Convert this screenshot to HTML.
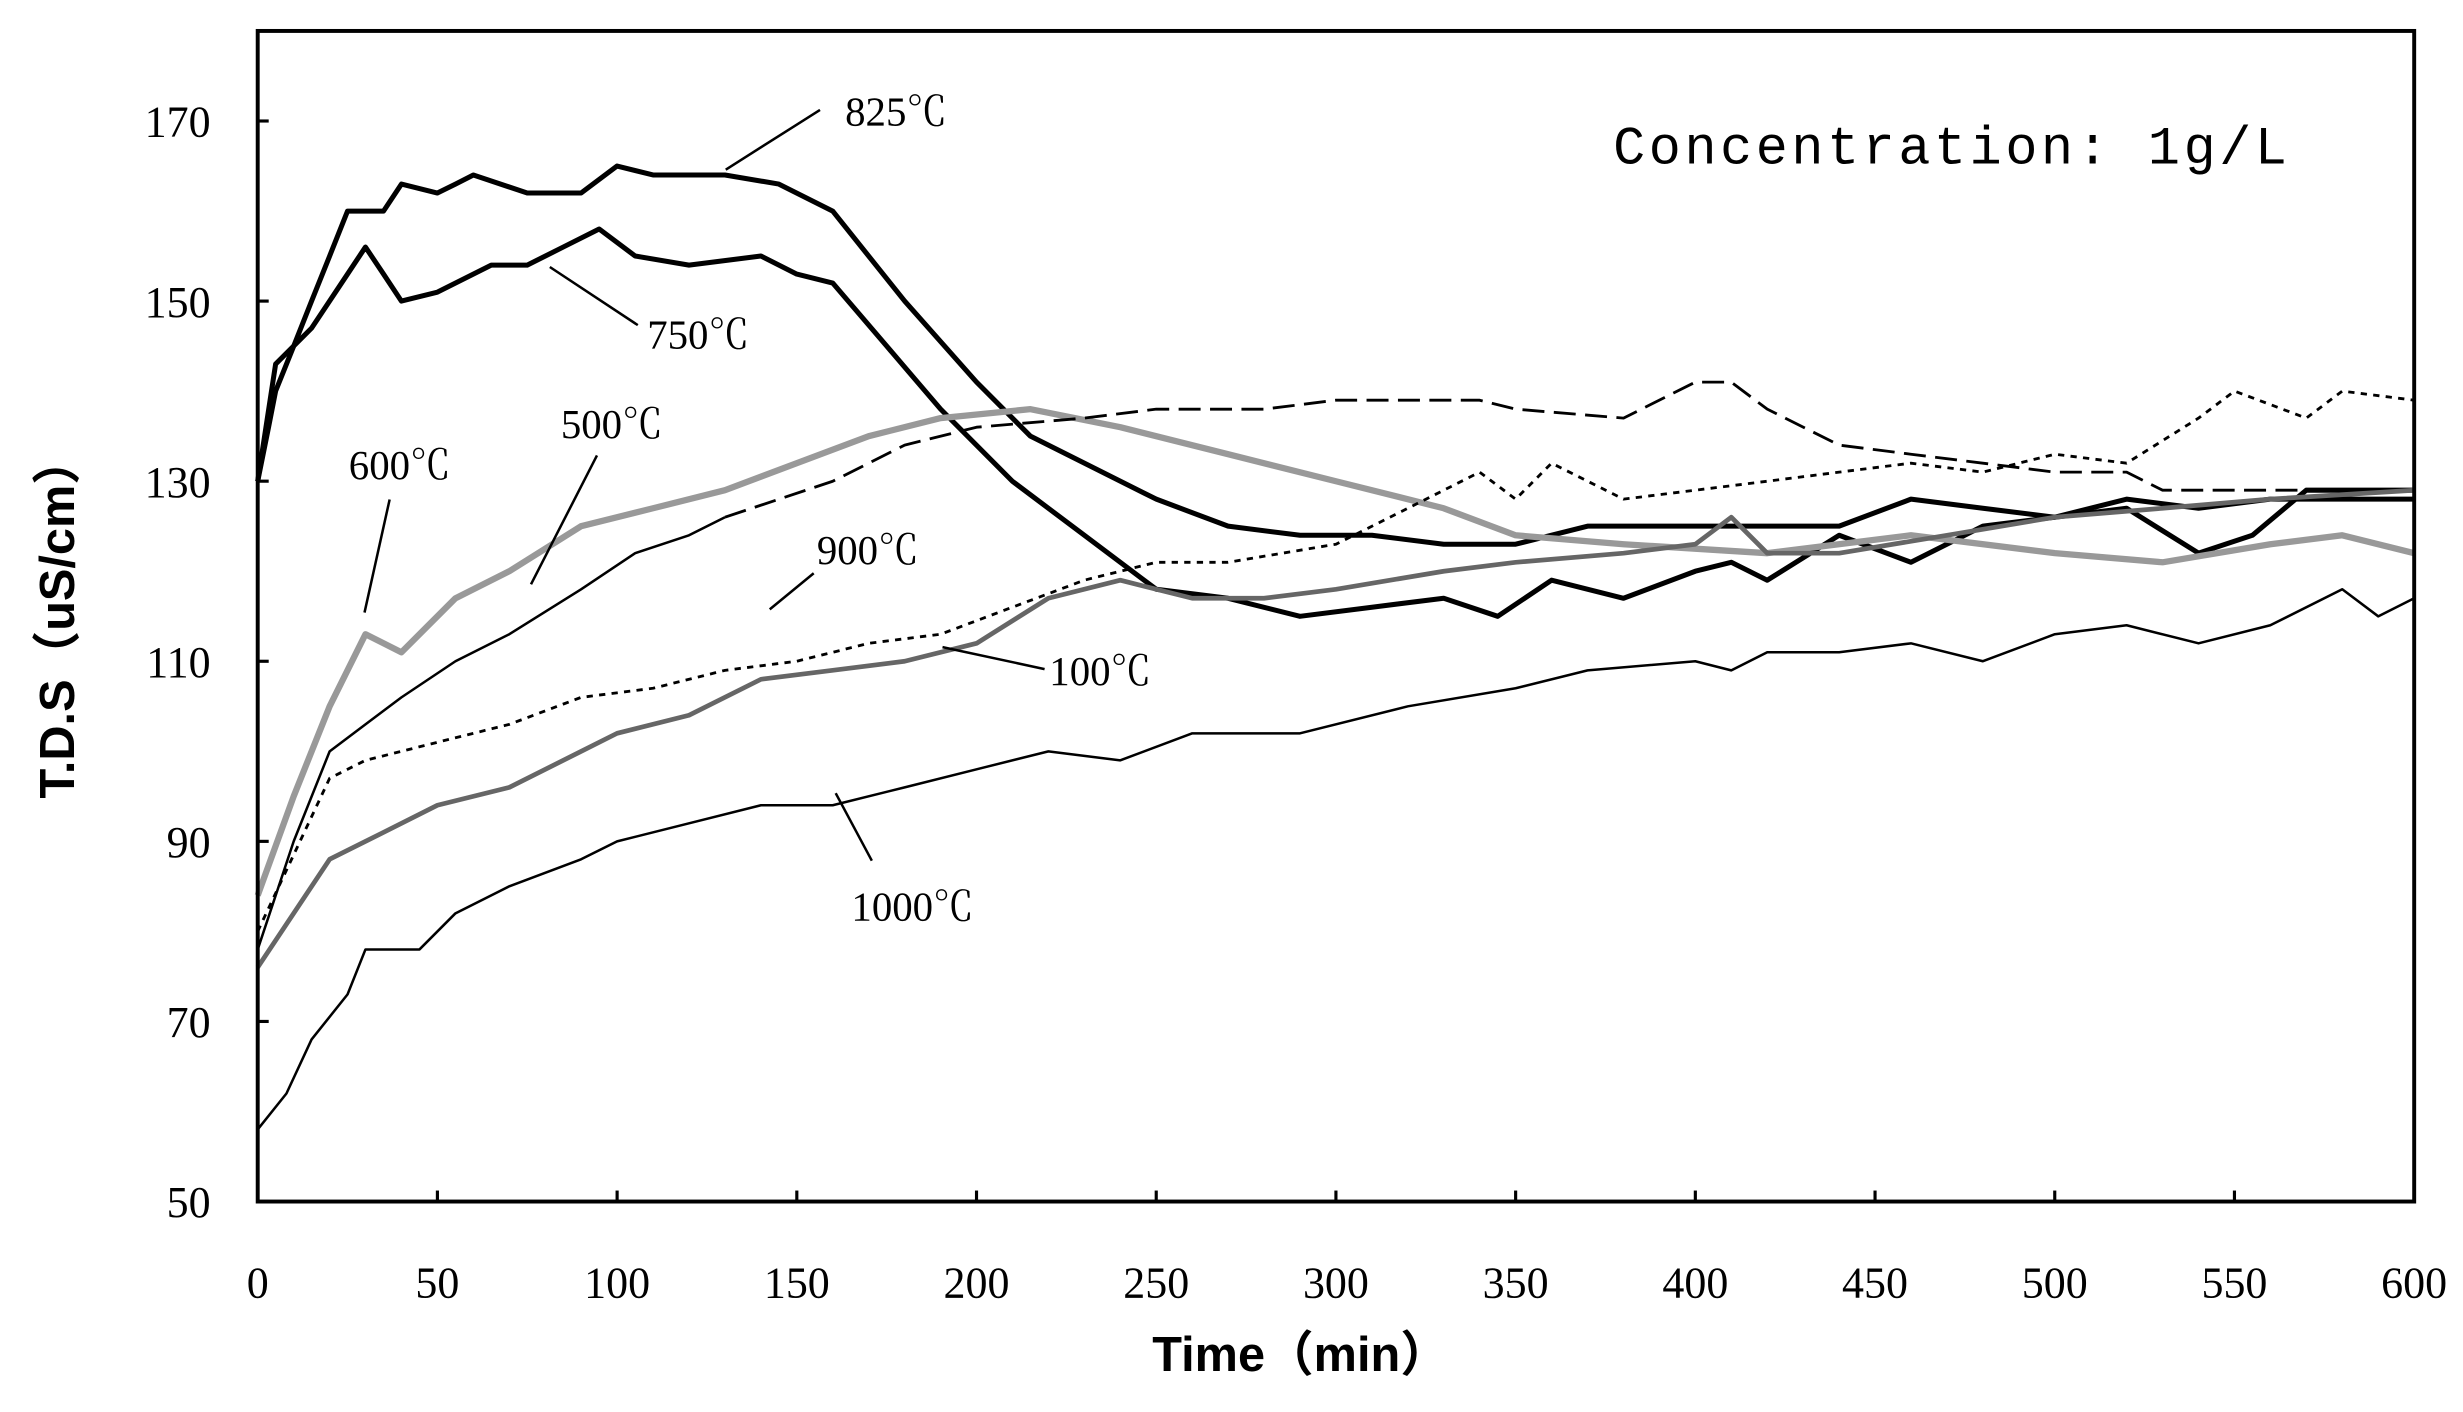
<!DOCTYPE html>
<html><head><meta charset="utf-8"><style>
html,body{margin:0;padding:0;background:#fff;}
svg{display:block;}
</style></head><body>
<svg width="2463" height="1412" viewBox="0 0 1568 899" xmlns="http://www.w3.org/2000/svg">
<rect width="1568" height="899" fill="#fff"/>
<g id="plot" fill="none" stroke-linejoin="round"></g>
<rect x="164" y="19.7" width="1373" height="745.3" fill="none" stroke="#000" stroke-width="2.5"/>
<g stroke="#000" stroke-width="2" id="ticks"></g>
<g font-family="'Liberation Serif','Noto Serif CJK SC',serif" font-size="28" fill="#000" id="lbl"></g>
<g font-family="'Liberation Serif','Noto Serif CJK SC',serif" font-size="26" fill="#000">
<text x="538" y="80">825℃</text>
<text x="412" y="222">750℃</text>
<text x="222" y="305">600℃</text>
<text x="357" y="279">500℃</text>
<text x="520" y="359">900℃</text>
<text x="668" y="436">100℃</text>
<text x="542" y="586">1000℃</text>
<text x="1027" y="104" font-size="34" font-family="'Liberation Mono',monospace" letter-spacing="2.3">Concentration: 1g/L</text>
</g>
<g stroke="#000" stroke-width="1.6">
<line x1="462" y1="108" x2="522" y2="70"/>
<line x1="350" y1="170" x2="406" y2="207"/>
<line x1="232" y1="390" x2="248" y2="318"/>
<line x1="338" y1="372" x2="380" y2="290"/>
<line x1="490" y1="388" x2="518" y2="365"/>
<line x1="600" y1="412" x2="665" y2="426"/>
<line x1="532" y1="505" x2="555" y2="548"/>
</g>
<g font-family="'Liberation Sans','Noto Sans CJK SC',sans-serif" font-weight="bold" font-size="31" fill="#000">
<text x="828" y="873" text-anchor="middle">Time（min）</text>
<text transform="translate(47,393) rotate(-90)" text-anchor="middle">T.D.S（uS/cm）</text>
</g>
</svg>
<script>
var NS='http://www.w3.org/2000/svg';
function el(parent,tag,attrs,txt){var e=document.createElementNS(NS,tag);for(var k in attrs)e.setAttribute(k,attrs[k]);if(txt!==undefined)e.textContent=txt;parent.appendChild(e);return e;}
var X=function(t){return 164+t*2.2883;}, Y=function(v){return 765-(v-50)*5.733;};
function P(a){var s='';for(var i=0;i<a.length;i+=2)s+=(i?'L':'M')+X(a[i]).toFixed(1)+','+Y(a[i+1]).toFixed(1);return s;}
var S={
s825:[0,130,3,136,5,140,10,145,15,150,20,155,25,160,35,160,40,163,50,162,55,163,60,164,75,162,90,162,100,165,110,164,130,164,145,163,160,160,180,150,200,141,215,135,230,132,250,128,270,125,290,124,310,124,330,123,350,123,370,125,440,125,460,128,480,127,500,126,520,128,540,127,560,128,600,128],
s750:[0,130,5,143,15,147,25,153,30,156,35,153,40,150,50,151,65,154,75,154,85,156,95,158,105,155,120,154,140,155,150,153,160,152,175,145,190,138,210,130,230,124,250,118,270,117,290,115,310,116,330,117,345,115,360,119,380,117,400,120,410,121,420,119,440,124,460,121,480,125,500,126,520,127,540,122,555,124,570,129,600,129],
s600:[0,84,10,95,20,105,30,113,40,111,55,117,70,120,90,125,110,127,130,129,150,132,170,135,190,137,215,138,240,136,270,133,300,130,330,127,350,124,380,123,420,122,460,124,500,122,530,121,560,123,580,124,600,122],
s500:[0,78,10,90,20,100,30,103,40,106,55,110,70,113,90,118,105,122,120,124,130,126],
sdash:[130,126,160,130,180,134,200,136,230,137,250,138,280,138,300,139,340,139,350,138,380,137,400,141,410,141,420,138,440,134,460,133,480,132,500,131,520,131,530,129,560,129,600,129],
s900:[0,80,20,97,30,99,50,101,70,103,90,106,110,107,130,109,150,110,170,112,190,113,210,116,230,119,250,121,270,121,300,123,320,127,340,131,350,128,360,132,380,128,400,129,420,130,440,131,460,132,480,131,500,133,520,132,540,137,550,140,570,137,580,140,600,139],
s100:[0,76,10,82,20,88,30,90,50,94,70,96,90,100,100,102,120,104,140,108,160,109,180,110,200,112,220,117,240,119,260,117,280,117,300,118,330,120,350,121,380,122,400,123,410,126,420,122,440,122,470,124,500,126,530,127,560,128,600,129],
s1000:[0,58,8,62,15,68,25,73,30,78,45,78,55,82,70,85,90,88,100,90,120,92,140,94,160,94,180,96,200,98,220,100,240,99,260,102,290,102,320,105,350,107,370,109,400,110,410,109,420,111,440,111,460,112,480,110,500,113,520,114,540,112,560,114,580,118,590,115,600,117]};
var st={s825:{stroke:'#000','stroke-width':3.2},s750:{stroke:'#000','stroke-width':3.2},s600:{stroke:'#999','stroke-width':4},s500:{stroke:'#000','stroke-width':1.6},sdash:{stroke:'#000','stroke-width':1.8,'stroke-dasharray':'14,6'},s900:{stroke:'#000','stroke-width':1.8,'stroke-dasharray':'4,4'},s100:{stroke:'#666','stroke-width':3},s1000:{stroke:'#000','stroke-width':1.6}};
var plot=document.getElementById('plot');
for(var k in S){var a=st[k];a.d=P(S[k]);el(plot,'path',a);}
var tk=document.getElementById('ticks'),lb=document.getElementById('lbl');
for(var i=0;i<=12;i++){var x=X(i*50);el(tk,'line',{x1:x,y1:765,x2:x,y2:758});el(lb,'text',{x:x,y:826,'text-anchor':'middle'},String(i*50));}
for(var v=50;v<=170;v+=20){var y=Y(v);el(tk,'line',{x1:164,y1:y,x2:171,y2:y});el(lb,'text',{x:134,y:y+10,'text-anchor':'end'},String(v));}
</script>
</body></html>
